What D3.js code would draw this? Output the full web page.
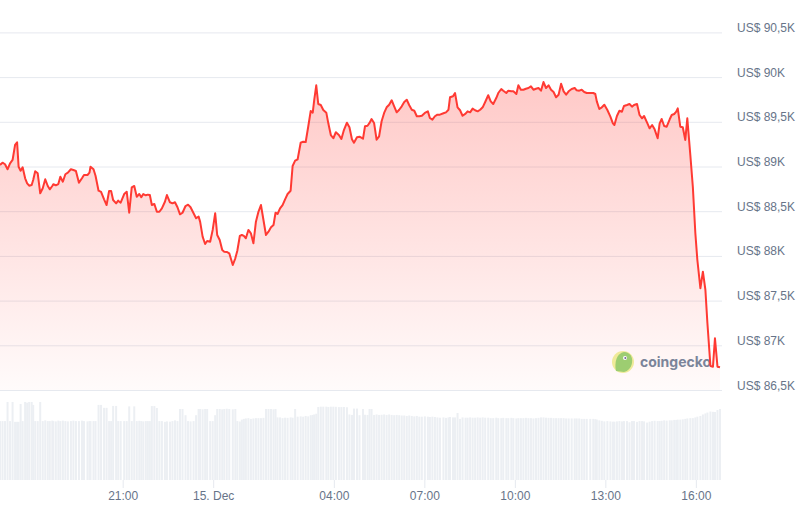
<!DOCTYPE html>
<html><head><meta charset="utf-8">
<script src="https://cdn.jsdelivr.net/npm/d3@7"></script>
<style>
body{margin:0;background:#fff;}
svg{display:block;font-family:Inter,"Noto Sans",sans-serif;}
</style>
</head><body>
<svg id="chart" width="808" height="508"></svg>
<script>
// ---- DATA ----
// 5-minute BTC price samples (US$), 14 Dec 16:56 -> 15 Dec 16:48 (day rolls over at midnight)
const times = ["16:56","17:01","17:06","17:11","17:16","17:21","17:26","17:30","17:33","17:37","17:41","17:46","17:50","17:54","17:59","18:02","18:06","18:11","18:16","18:21","18:26","18:31","18:35","18:40","18:42","18:47","18:52","18:56","19:01","19:06","19:11","19:17","19:22","19:27","19:33","19:39","19:43","19:50","19:54","19:56","20:02","20:06","20:12","20:17","20:23","20:28","20:33","20:37","20:41","20:47","20:51","20:56","21:03","21:08","21:13","21:18","21:23","21:28","21:33","21:37","21:41","21:46","21:50","21:54","21:58","22:03","22:08","22:13","22:18","22:24","22:28","22:34","22:39","22:44","22:49","22:54","22:59","23:05","23:10","23:15","23:21","23:26","23:31","23:34","23:39","23:44","23:48","23:54","23:59","00:04","00:08","00:13","00:18","00:22","00:27","00:32","00:39","00:44","00:48","00:53","00:57","01:01","01:05","01:10","01:15","01:20","01:25","01:30","01:35","01:40","01:45","01:50","01:55","02:00","02:04","02:08","02:13","02:18","02:23","02:28","02:34","02:38","02:43","02:48","02:54","02:59","03:04","03:09","03:14","03:18","03:21","03:25","03:29","03:34","03:39","03:45","03:49","03:54","03:59","04:04","04:10","04:15","04:20","04:26","04:31","04:36","04:40","04:46","04:51","04:58","05:02","05:07","05:11","05:15","05:20","05:25","05:30","05:35","05:40","05:45","05:50","05:55","06:00","06:05","06:10","06:15","06:20","06:25","06:30","06:35","06:40","06:45","06:50","06:55","07:01","07:07","07:11","07:16","07:21","07:26","07:31","07:38","07:43","07:48","07:51","07:57","08:01","08:06","08:11","08:16","08:22","08:26","08:31","08:36","08:41","08:46","08:51","08:56","09:01","09:07","09:12","09:17","09:23","09:27","09:33","09:37","09:43","09:47","09:53","09:57","10:03","10:07","10:12","10:17","10:22","10:27","10:32","10:37","10:42","10:47","10:52","10:57","11:02","11:07","11:12","11:17","11:22","11:27","11:32","11:37","11:42","11:47","11:53","11:59","12:03","12:08","12:13","12:18","12:23","12:30","12:36","12:40","12:43","12:48","12:53","12:58","13:04","13:10","13:15","13:18","13:23","13:28","13:33","13:37","13:43","13:48","13:53","13:57","14:03","14:08","14:13","14:17","14:23","14:28","14:33","14:38","14:44","14:48","14:52","14:57","15:02","15:08","15:12","15:17","15:21","15:24","15:29","15:34","15:39","15:43","15:49","15:54","15:59","16:03","16:09","16:14","16:19","16:23","16:29","16:34","16:38","16:43","16:48"];
const prices = [89017,89043,89025,88969,89036,89073,89241,89271,88998,88953,88991,88868,88812,88785,88793,88849,88946,88924,88700,88756,88857,88782,88745,88782,88801,88790,88804,88886,88830,88913,88931,88969,88961,88950,88819,88868,88905,88905,88931,88998,88969,88897,88729,88715,88633,88569,88726,88726,88625,88588,88618,88595,88692,88718,88483,88767,88782,88662,88692,88656,88692,88678,88685,88681,88569,88581,88494,88494,88532,88606,88681,88600,88588,88600,88544,88465,88483,88558,88573,88544,88477,88421,88439,88383,88215,88133,88167,88159,88290,88477,88234,88178,88066,88047,88044,88029,87898,87973,88058,88223,88234,88223,88197,88290,88253,88141,88383,88494,88569,88402,88234,88271,88320,88346,88483,88469,88532,88569,88633,88692,88729,89006,89065,89081,89266,89278,89274,89445,89621,89602,89744,89908,89699,89688,89632,89602,89483,89352,89316,89383,89352,89308,89408,89490,89439,89304,89266,89327,89333,89311,89450,89456,89487,89531,89487,89300,89338,89506,89599,89662,89691,89741,89673,89606,89635,89673,89722,89747,89685,89635,89624,89562,89562,89568,89599,89617,89543,89524,89562,89580,89580,89595,89606,89635,89774,89785,89822,89662,89629,89568,89591,89617,89606,89647,89629,89617,89635,89662,89722,89797,89729,89699,89766,89822,89867,89848,89822,89848,89841,89841,89811,89908,89859,89859,89870,89878,89897,89859,89870,89878,89848,89945,89878,89908,89859,89833,89774,89803,89926,89841,89803,89841,89867,89878,89852,89848,89859,89833,89822,89822,89822,89811,89729,89643,89662,89691,89632,89557,89483,89464,89565,89624,89613,89677,89688,89699,89669,89688,89699,89576,89539,89565,89490,89427,89464,89416,89316,89483,89531,89453,89445,89528,89576,89587,89613,89651,89445,89439,89297,89539,89129,88774,88253,87954,87638,87823,87619,87246,86768,86761,87078,86761,86754];
// 24h trading volume (billion US$) at the same timestamps
const volumes = [40,40,40,53,40,53,39.5,39.5,39.5,51.6,40,53,52.5,53,53,51,40,40,53,40,40.5,40,40,40.3,40,39.8,40.3,40,40.3,40,39.8,40,40.3,40,40,40.3,40,39.8,40,40,40,40,51,51,49,49,40,40,50.3,50.3,40,40,40,40,50,40,50,40,40.2,40,39.8,40,40,40,50.2,50.2,48.9,40,40,39.5,39.8,39.6,40,40.5,40,48.2,48.2,44,40,39.8,40,44,48.2,48.2,48,48.2,48.2,40,40,44,48.2,48.2,48,48.2,48.4,48.2,48,48.2,40,39.7,41,41.5,41.8,42,41.5,41.8,42,42,42,42.2,48.2,48.2,48.2,48,48.2,42.5,42.5,42,42.3,42.2,42.5,42.3,48.2,43,43.2,43,43.5,43.2,44,44.2,44.5,45,49.6,49.8,49.8,49.8,49.6,49.8,49.8,49.7,49.5,49.5,49.6,49.4,44.5,44.2,48.5,48.5,44,48.2,44.3,44.2,48.2,48.2,44.2,44.5,44.2,44.3,44.5,44.2,44.5,44.2,44,44.2,44,43.8,43.8,43.5,43.8,43.5,43.2,43.5,43,43,43.2,43,42.8,43,42.8,42.5,42.3,42.5,42.2,42.5,42.8,42.5,42.5,45.5,41.5,42.5,42.3,42.3,42.5,42.3,42.3,42.5,42.3,42.5,42.3,42.3,42,42,42.3,42,42,42.2,42,42,42.2,42,41.8,42,42,42,42.2,42,42,41.8,42,42.2,42.5,42.5,42.3,42.2,42.2,42,42,42,42,42,41.8,41.8,41.8,41.8,41.8,41.8,41.5,41.5,41.5,41.5,41.5,41.3,41,40.5,40.2,39.8,40,39.8,39.6,39.6,39.8,40,39.8,40,40,39.2,40,40,39.5,40,40,39.8,39,39.6,40,40.2,40,40,40.2,40.5,40.3,40.5,40.5,40.8,40.8,41,41,41.2,41.5,41.8,42,42,42.5,43,43.5,44.5,45.2,45.8,46.5,46.3,46.2,47.5,48.2];
const priceTicks = [86500,87000,87500,88000,88500,89000,89500,90000,90500];
const timeTicks = ["14 21:00","15 00:00","15 04:00","15 07:00","15 10:00","15 13:00","15 16:00"];
const timeTickLabels = ["21:00","15. Dec","04:00","07:00","10:00","13:00","16:00"];

// ---- PARSE ----
let day = 14, prevH = -1;
const dates = times.map(s => {
  const [h, m] = s.split(":").map(Number);
  if (h < prevH) day += 1;
  prevH = h;
  return new Date(2024, 11, day, h, m);
});
const tickDates = timeTicks.map(s => {
  const [d, hm] = s.split(" ");
  const [h, m] = hm.split(":").map(Number);
  return new Date(2024, 11, +d, h, m);
});
const data = dates.map((d, i) => ({t: d, p: prices[i], v: volumes[i]}));

// ---- SCALES ----
const svg = d3.select("#chart");
const x = d3.scaleTime()
  .domain([new Date(2024, 11, 14, 16, 56), new Date(2024, 11, 15, 16, 52)])
  .range([0, 722]);
const y = d3.scaleLinear().domain([86500, 90500]).range([390, 32.4]);
const yv = d3.scaleLinear().domain([0, 55]).range([480, 399]);

const red = "#ff3a33";
const fmt = v => "US$ " + (v / 1000).toString().replace(".", ",") + "K";

// gradient
const defs = svg.append("defs");
const grad = defs.append("linearGradient").attr("id", "fillGrad")
  .attr("gradientUnits", "userSpaceOnUse")
  .attr("x1", 0).attr("x2", 0).attr("y1", 85).attr("y2", 390);
grad.append("stop").attr("offset", 0).attr("stop-color", red).attr("stop-opacity", 0.27);
grad.append("stop").attr("offset", 1).attr("stop-color", red).attr("stop-opacity", 0.02);

// grid lines
const yAxis = d3.axisRight(y).tickValues(priceTicks).tickSize(722).tickFormat(fmt).tickPadding(15);
const gy = svg.append("g").call(yAxis);
gy.select(".domain").remove();
gy.selectAll(".tick line").attr("stroke", "#e6e9ef").attr("stroke-width", 1);
gy.selectAll(".tick text")
  .attr("fill", "#677489").attr("font-size", 12).attr("dy", -1);

// volume bars
svg.append("g").selectAll("rect").data(data).join("rect")
  .attr("x", d => x(d.t) - 1)
  .attr("width", 2)
  .attr("y", d => yv(d.v))
  .attr("height", d => yv(0) - yv(d.v))
  .attr("fill", "#eceff3");

// x axis
const xAxis = d3.axisBottom(x).tickValues(tickDates)
  .tickFormat((d, i) => timeTickLabels[i]).tickSize(8).tickPadding(3);
const gx = svg.append("g").attr("transform", "translate(0,480)").call(xAxis);
gx.select(".domain").remove();
gx.selectAll(".tick line").attr("stroke", "#e6e9ef");
gx.selectAll(".tick text").attr("fill", "#677489").attr("font-size", 12);

// area + line
svg.append("path").datum(data)
  .attr("d", d3.area().x(d => x(d.t)).y0(y(86500)).y1(d => y(d.p)))
  .attr("fill", "url(#fillGrad)");

// watermark
const wm = svg.append("g").attr("opacity", 0.85);
wm.append("circle").attr("cx", 623).attr("cy", 362).attr("r", 11).attr("fill", "#eee98a");
wm.append("path").attr("d", "M616,371 C614,362 617,353 624,352 C630,352 633,357 632,363 C631,368 628,371 624,372 Z").attr("fill", "#8cc65a");
wm.append("circle").attr("cx", 625).attr("cy", 358).attr("r", 2).attr("fill", "#fff");
wm.append("circle").attr("cx", 625.3).attr("cy", 358).attr("r", 1).attr("fill", "#5a4a8a");
wm.append("text").attr("x", 640).attr("y", 367).text("coingecko")
  .attr("font-size", 14).attr("font-weight", 700).attr("fill", "#64718a");

svg.append("path").datum(data)
  .attr("d", d3.line().x(d => x(d.t)).y(d => y(d.p)))
  .attr("fill", "none").attr("stroke", red).attr("stroke-width", 2)
  .attr("stroke-linejoin", "round");
</script>
</body></html>
